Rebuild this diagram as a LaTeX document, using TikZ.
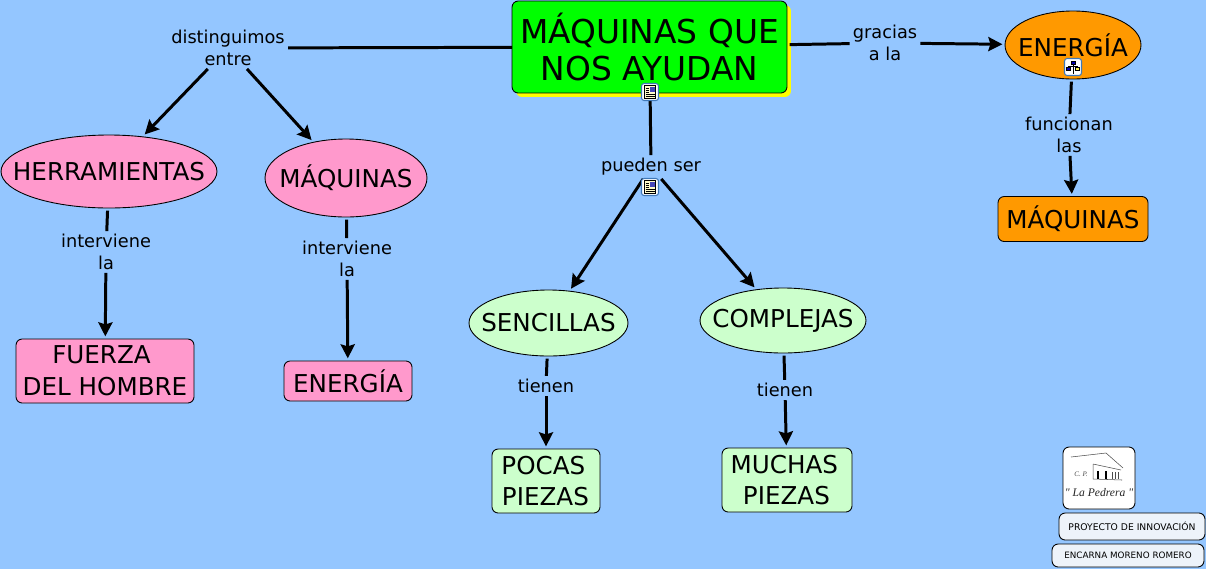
\documentclass[tikz,border=0pt]{standalone}
\usepackage{fontspec}
\setmainfont{DejaVu Sans}
\newfontfamily\logofont{Liberation Serif}
\usetikzlibrary{shadows,shapes.geometric,arrows.meta}
\definecolor{fondo}{HTML}{94C6FF}
\definecolor{rosa}{HTML}{FF99CC}
\definecolor{verdeclaro}{HTML}{CCFFCC}
\definecolor{naranja}{HTML}{FF9900}
\definecolor{verde}{HTML}{00FF00}
\definecolor{amarillo}{HTML}{FFFF00}
\definecolor{pie}{HTML}{EDF3FA}
\definecolor{marco}{HTML}{3F78B8}
\newcommand{\sinancho}[1]{\makebox[0pt]{#1}}
\tikzset{
  docicon/.pic={
    \draw[fill=white,draw=marco,rounded corners=1.5pt,line width=0.6pt] (-8.5,-8.5) rectangle (8.5,8.5);
    \draw[fill=yellow!20,line width=0.5pt] (-5.5,-6.5) rectangle (5.5,6.5);
    \fill[blue!45!gray] (0,-5.5) rectangle (4.5,-0.5);
    \foreach \yy in {-4,-2,0} \draw[line width=0.35pt] (-4.5,\yy) -- (-1,\yy);
    \foreach \yy in {2,4} \draw[line width=0.35pt] (-4.5,\yy) -- (4.5,\yy);
  },
  mapicon/.pic={
    \draw[fill=white,draw=marco,rounded corners=1.5pt,line width=0.6pt] (-8.5,-8.5) rectangle (8.5,8.5);
    \draw[fill=blue!70!black,line width=0.3pt] (-2,-6) rectangle (2,-2.5);
    \draw[fill=blue!70!black,line width=0.3pt] (-6.5,0) rectangle (-2.5,3.5);
    \draw[fill=yellow!70,line width=0.3pt] (2.5,0) rectangle (6.5,3.5);
    \draw[line width=0.3pt] (0,-2.5) -- (0,6.5) (-4.5,0) -- (-4.5,-1) -- (4.5,-1) -- (4.5,0);
  }
}
\begin{document}
\begin{tikzpicture}[
  x=0.02cm,y=-0.02cm,
  >={Stealth[length=8pt,width=8pt,inset=1.2pt]},
  concepto/.style={draw=black,line width=0.5pt,align=center,inner sep=0pt,outer sep=1.5pt},
  caja/.style={concepto,rounded corners=3.5pt,fill=#1,font=\fontsize{14}{18}\selectfont},
  ovalo/.style={concepto,ellipse,fill=#1,font=\fontsize{14}{18}\selectfont},
  enlace/.style={align=center,inner sep=1.7pt,font=\fontsize{10.1}{12.2}\selectfont},
  linea/.style={line width=1.7pt},
  flecha/.style={line width=1.7pt,->},
  pieboton/.style={draw=black,line width=0.5pt,rounded corners=3.5pt,fill=pie,inner sep=0pt}
]
  \useasboundingbox (0,0) rectangle (1206,569);
  \fill[fondo] (0,0) rectangle (1206,569);

  % conceptos
  \node[caja=verde,minimum width=5.5cm,minimum height=1.84cm,font=\fontsize{18.7}{21.2}\selectfont,
    drop shadow={shadow xshift=0.08cm,shadow yshift=-0.08cm,opacity=1,fill=amarillo}] (titulo) at (649.5,47) {MÁQUINAS QUE\\NOS AYUDAN};
  \node[ovalo=naranja,minimum width=2.72cm,minimum height=1.36cm] (energiaA) at (1073,45) {\sinancho{ENERGÍA}};
  \node[caja=naranja,minimum width=3cm,minimum height=0.9cm] (maquinasA) at (1073,219) {MÁQUINAS};
  \node[ovalo=rosa,minimum width=4.32cm,minimum height=1.46cm] (herram) at (109,171.5) {\sinancho{HERRAMIENTAS}};
  \node[ovalo=rosa,minimum width=3.24cm,minimum height=1.56cm] (maquinasB) at (346,178) {\sinancho{MÁQUINAS}};
  \node[caja=rosa,minimum width=3.56cm,minimum height=1.28cm] (fuerza) at (105,371) {FUERZA\kern4pt\\DEL HOMBRE};
  \node[caja=rosa,minimum width=2.56cm,minimum height=0.8cm] (energiaB) at (348,381) {ENERGÍA};
  \node[ovalo=verdeclaro,minimum width=3.18cm,minimum height=1.32cm] (sencillas) at (548.5,323) {\sinancho{SENCILLAS}};
  \node[ovalo=verdeclaro,minimum width=3.32cm,minimum height=1.3cm] (complejas) at (783,320.5) {\sinancho{COMPLEJAS}};
  \node[caja=verdeclaro,minimum width=2.16cm,minimum height=1.28cm] (pocas) at (546,481) {POCAS\kern3pt\\\,PIEZAS\kern3pt};
  \node[caja=verdeclaro,minimum width=2.6cm,minimum height=1.28cm] (muchas) at (787,480) {MUCHAS\kern3pt\\\,PIEZAS\kern3pt};

  % enlaces
  \node[enlace] (distinguimos) at (228,48) {distinguimos\\entre};
  \node[enlace] (gracias) at (885,43) {gracias\\a la};
  \node[enlace] (funcionan) at (1069,135) {funcionan\\las};
  \node[enlace] (pueden) at (651,167) {pueden ser};
  \node[enlace] (intervieneA) at (106,252) {interviene\\la};
  \node[enlace] (intervieneB) at (347,259) {interviene\\la};
  \node[enlace] (tienenA) at (546,386) {tienen};
  \node[enlace] (tienenB) at (785,390) {tienen};

  \draw[linea,shorten <=-1.5pt] (titulo) -- (distinguimos);
  \draw[flecha] (distinguimos) -- (herram);
  \draw[flecha] (distinguimos) -- (maquinasB);
  \draw[linea] (herram) -- (intervieneA);
  \draw[flecha] (intervieneA) -- (fuerza);
  \draw[linea] (maquinasB) -- (intervieneB);
  \draw[flecha] (intervieneB) -- (energiaB);
  \draw[linea] (titulo) -- (pueden);
  \draw[flecha] (pueden) -- (sencillas);
  \draw[flecha] (pueden) -- (complejas);
  \draw[linea] (sencillas) -- (tienenA);
  \draw[flecha] (tienenA) -- (pocas);
  \draw[linea] (complejas) -- (tienenB);
  \draw[flecha] (tienenB) -- (muchas);
  \draw[linea] (titulo) -- (gracias);
  \draw[flecha] (gracias) -- (energiaA);
  \draw[linea] (energiaA) -- (funcionan);
  \draw[flecha] (funcionan) -- (maquinasA);

  % iconos
  \pic at (650,92) {docicon};
  \pic at (650,187) {docicon};
  \pic at (1073,67) {mapicon};

  % logo y pie
  \node[pieboton,fill=white,minimum width=1.44cm,minimum height=1.24cm] (logo) at (1099,478) {};
  \draw[line width=0.3pt,black!70] (1071,457) -- (1106,453) -- (1123,468) (1093,464) -- (1121,470) (1093,464) -- (1093,479) -- (1122,480);
  \foreach \xx in {1098,1106} \draw[line width=1.1pt] (\xx,471) -- (\xx,479);
  \foreach \xx in {1112,1115,1118} \draw[line width=0.5pt,black!70] (\xx,472) -- (\xx,479);
  \node[font=\logofont\fontsize{4}{5}\selectfont\itshape,text=black!70,inner sep=0pt] (cp) at (1081,474) {C. P.};
  \node[font=\logofont\fontsize{6.6}{8}\selectfont\itshape,text=black!85,inner sep=0pt] (pedrera) at (1099,493) {" La Pedrera "};
  \node[pieboton,minimum width=2.92cm,minimum height=0.54cm,font=\fontsize{5.25}{6}\selectfont] (proyecto) at (1132,526.5) {PROYECTO DE INNOVACIÓN};
  \node[pieboton,minimum width=3.04cm,minimum height=0.46cm,font=\fontsize{5}{6}\selectfont] (autora) at (1128,555.5) {ENCARNA MORENO ROMERO};
\end{tikzpicture}
\end{document}
